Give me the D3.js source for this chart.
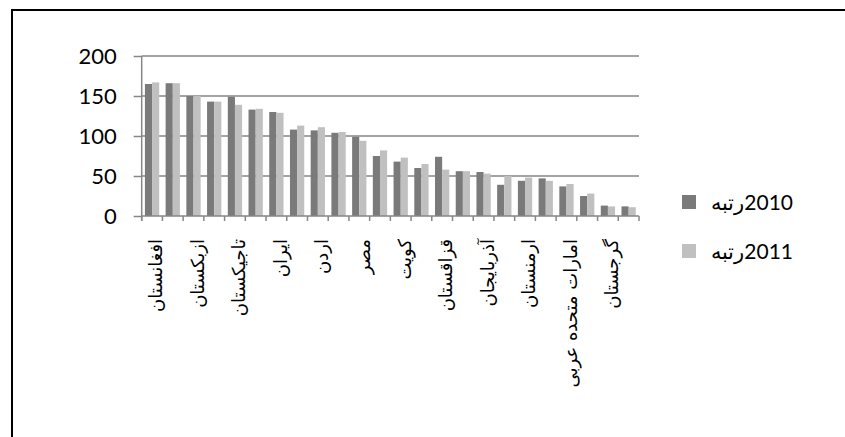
<!DOCTYPE html>
<html>
<head>
<meta charset="utf-8">
<script src="https://cdn.jsdelivr.net/npm/d3@7"></script>
<style>
  html, body { margin: 0; padding: 0; background: #fff; }
  svg { display: block; }
</style>
</head>
<body>
<svg id="chart" width="845" height="437"></svg>
<script>
const categories = ["افغانستان","عراق","ازبکستان","سوریه","تاجیکستان","فلسطین","ایران","لبنان","اردن","یمن","مصر","پاکستان","کویت","ترکیه","قزاقستان","عمان","آذربایجان","قطر","ارمنستان","قرقیزستان","امارات متحده عربی","بحرین","گرجستان","عربستان"];
const rank2010 = [165,166,150,143,149,133,130,108,107,104,99,75,68,60,74,56,55,39,44,47,37,25,13,12];
const rank2011 = [167,166,150,143,139,134,129,113,111,105,94,82,73,65,58,56,53,50,48,44,40,28,12,11];
const seriesNames = ["2010رتبه","2011رتبه"];
const yTicks = [0,50,100,150,200];

const svg = d3.select("#chart");
const colors = ["#7a7a7a","#c0c0c0"];

// frame
svg.append("line").attr("x1",12).attr("x2",845).attr("y1",10).attr("y2",10).attr("stroke","#000").attr("stroke-width",2);
svg.append("line").attr("x1",12).attr("x2",12).attr("y1",9).attr("y2",437).attr("stroke","#000").attr("stroke-width",2);

const x0 = 141.7, x1 = 639, yTop = 56, yBot = 216;
const x = d3.scaleBand().domain(categories).range([x0, x1]).padding(0);
const y = d3.scaleLinear().domain([0,200]).range([yBot, yTop]);
const xs = d3.scaleBand().domain([0,1]).range([0, x.bandwidth()]).paddingInner(0).paddingOuter(0.45);

// gridlines
svg.append("g").selectAll("line").data(yTicks.filter(d=>d>0)).join("line")
  .attr("x1", x0).attr("x2", x1).attr("y1", d=>y(d)).attr("y2", d=>y(d))
  .attr("stroke","#868686").attr("stroke-width",1.5);

// bars
const data = categories.map((c,i)=>({c, v:[rank2010[i], rank2011[i]]}));
const g = svg.append("g");
g.selectAll("g.cat").data(data).join("g").attr("class","cat")
  .attr("transform", d=>`translate(${x(d.c)},0)`)
  .selectAll("rect").data(d=>d.v.map((v,k)=>({v,k}))).join("rect")
  .attr("x", d=>xs(d.k)).attr("width", xs.bandwidth())
  .attr("y", d=>y(d.v)).attr("height", d=>yBot - y(d.v))
  .attr("fill", d=>colors[d.k]);

// y axis
const yAxis = svg.append("g").attr("transform",`translate(${x0},0)`)
  .call(d3.axisLeft(y).tickValues(yTicks).tickSize(8).tickPadding(17));
yAxis.select(".domain").attr("stroke","#868686").attr("stroke-width",1.5).attr("d",`M0,${yTop}V${yBot+5}`);
yAxis.selectAll(".tick line").attr("stroke","#868686").attr("stroke-width",1.5);
yAxis.selectAll("text").attr("font-family","Lato, 'Open Sans', sans-serif").attr("font-size",22).attr("fill","#000");

// x axis
const xAxis = svg.append("g").attr("transform",`translate(0,${yBot})`)
  .call(d3.axisBottom(x).tickSizeOuter(0).tickSize(0).tickFormat((d,i)=> i%2===0 ? d : ""));
xAxis.select(".domain").attr("stroke","#868686").attr("stroke-width",1.5).attr("d",`M${x0},0H${x1}`);
// category boundary ticks
svg.append("g").selectAll("line").data(categories.concat([null])).join("line")
  .attr("x1",(d,i)=> x0 + i*x.step()).attr("x2",(d,i)=> x0 + i*x.step())
  .attr("y1", yBot).attr("y2", yBot+5).attr("stroke","#868686").attr("stroke-width",1.5);
xAxis.selectAll(".tick text")
  .attr("font-family","'DejaVu Sans', sans-serif").attr("font-size",18).attr("fill","#000")
  .attr("transform","rotate(-90)")
  .attr("text-anchor","end")
  .attr("x",-23).attr("y",4).attr("dy","0.35em");

// legend
const leg = svg.append("g");
seriesNames.forEach((n,k)=>{
  const yy = 202 + k*49;
  leg.append("rect").attr("x",682).attr("y",yy-7).attr("width",14).attr("height",14).attr("fill",colors[k]);
  leg.append("text").attr("x",793).attr("y",yy+8).attr("direction","rtl").attr("text-anchor","start")
    .attr("font-family","Lato, 'Open Sans', sans-serif").attr("font-size",21).attr("fill","#000").text(n);
});
</script>
</body>
</html>
